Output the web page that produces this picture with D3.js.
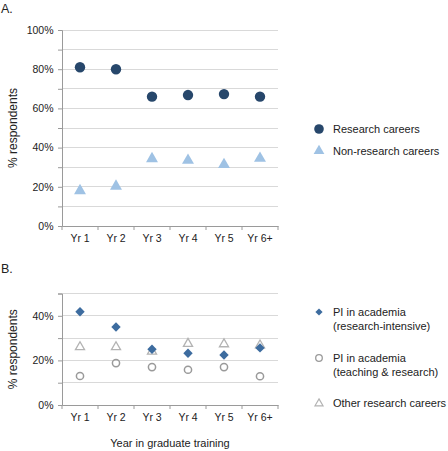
<!DOCTYPE html>
<html><head><meta charset="utf-8">
<script src="https://cdn.jsdelivr.net/npm/d3@7/dist/d3.min.js"></script>
<style>body{margin:0;background:#fff;}svg{display:block;font-family:"Liberation Sans",Arial,Helvetica,sans-serif;}</style>
</head><body>
<script>
const years = ["Yr 1","Yr 2","Yr 3","Yr 4","Yr 5","Yr 6+"];
const researchCareers = [81, 80, 66, 66.8, 67.3, 66];
const nonResearchCareers = [18, 20.3, 34.3, 33.5, 31.3, 34.5];
const piResearchIntensive = [41.8, 35, 25, 23.2, 22.4, 25.6];
const piTeachingResearch = [13, 18.8, 17, 15.8, 17, 12.9];
const otherResearch = [26, 26, 24, 27.5, 27.3, 26.8];
const ticksA = [0,20,40,60,80,100];
const ticksB = [0,20,40];

const W = 448, H = 451;
const svg = d3.select("body").append("svg").attr("width", W).attr("height", H);

const x = d3.scaleBand().domain(years).range([62, 278]).paddingInner(0).paddingOuter(0);
const yA = d3.scaleLinear().domain([0,100]).range([226, 30]);
const yB = d3.scaleLinear().domain([0,50]).range([405, 293.5]);

const gridColor = "#d9d9d9", axisColor = "#9a9a9a", txt = "#222";

function panel(y, ticks, gridStep, yTitleCenter){
  const g = svg.append("g");
  const [d0,d1] = y.domain();
  const gridVals = d3.range(d0 + gridStep, d1 + 0.001, gridStep);
  g.selectAll("line.grid").data(gridVals).join("line")
    .attr("x1", 62).attr("x2", 278).attr("y1", d=>y(d)).attr("y2", d=>y(d))
    .attr("stroke", gridColor).attr("stroke-width", 1).attr("shape-rendering","crispEdges");
  // left axis
  const la = d3.axisLeft(y).tickValues(d3.range(d0, d1 + 0.001, gridStep)).tickSize(4)
    .tickFormat(d => ticks.includes(d) ? d + "%" : "");
  const lg = g.append("g").attr("transform","translate(62,0)").call(la);
  lg.select(".domain").attr("stroke", axisColor);
  lg.selectAll(".tick line").attr("stroke", axisColor);
  lg.selectAll("text").attr("fill", txt).attr("font-size", "10.5px").attr("x", -8.5)
    .attr("font-family", "'Liberation Sans',Arial,sans-serif");
  // bottom axis
  const ba = d3.axisBottom(x).tickSize(0).tickPadding(9);
  const bg = g.append("g").attr("transform", `translate(0,${y(d0)})`).call(ba);
  bg.select(".domain").attr("stroke", axisColor);
  bg.selectAll("text").attr("fill", txt).attr("font-size", "10.5px")
    .attr("font-family", "'Liberation Sans',Arial,sans-serif");
  const bounds = years.map(d => x(d)).concat([x(years[years.length-1]) + x.bandwidth()]);
  g.selectAll("line.bt").data(bounds).join("line")
    .attr("x1", d=>d).attr("x2", d=>d).attr("y1", y(d0)).attr("y2", y(d0)+4)
    .attr("stroke", axisColor);
  // y title
  g.append("text").attr("transform", `translate(17,${yTitleCenter}) rotate(-90)`)
    .attr("text-anchor","middle").attr("font-size","12px").attr("fill", txt).text("% respondents");
  return g;
}

panel(yA, ticksA, 10, (yA(0)+yA(100))/2);
panel(yB, ticksB, 10, (yB(0)+yB(50))/2);

svg.append("text").attr("x", 1).attr("y", 13).attr("font-size","12.5px").attr("fill", txt).text("A.");
svg.append("text").attr("x", 1).attr("y", 273).attr("font-size","12.5px").attr("fill", txt).text("B.");
svg.append("text").attr("x", 170).attr("y", 447).attr("text-anchor","middle").attr("font-size","11px").attr("fill", txt).text("Year in graduate training");

const cx = d => x(d) + x.bandwidth()/2;
const cDark = "#27476b", cLight = "#9fc2e4", cDiamond = "#3d6c9f", cCirc = "#9a9a9a", cTri = "#b3b3b3";
const tri = d3.symbol().type(d3.symbolTriangle);
const dia = d3.symbol().type(d3.symbolSquare);

// Panel A
svg.append("g").selectAll("circle").data(years).join("circle")
  .attr("cx", cx).attr("cy", (d,i)=>yA(researchCareers[i])).attr("r", 5.2).attr("fill", cDark);
svg.append("g").selectAll("path").data(years).join("path")
  .attr("d", tri.size(62)())
  .attr("transform", (d,i)=>`translate(${cx(d)},${yA(nonResearchCareers[i])})`).attr("fill", cLight);

// Panel B
svg.append("g").selectAll("path").data(years).join("path")
  .attr("d", tri.size(36)())
  .attr("transform", (d,i)=>`translate(${cx(d)},${yB(otherResearch[i])})`)
  .attr("fill", "none").attr("stroke", cTri).attr("stroke-width", 1.3);
svg.append("g").selectAll("circle").data(years).join("circle")
  .attr("cx", cx).attr("cy", (d,i)=>yB(piTeachingResearch[i])).attr("r", 3.6)
  .attr("fill", "none").attr("stroke", cCirc).attr("stroke-width", 1.5);
svg.append("g").selectAll("path").data(years).join("path")
  .attr("d", dia.size(44)())
  .attr("transform", (d,i)=>`translate(${cx(d)},${yB(piResearchIntensive[i])}) rotate(45)`).attr("fill", cDiamond);

// Legends
const lx = 319, tx = 333;
const legA = svg.append("g").attr("font-size","11px").attr("fill", txt);
legA.append("circle").attr("cx", lx).attr("cy", 129).attr("r", 4.8).attr("fill", cDark);
legA.append("text").attr("x", tx).attr("y", 133).text("Research careers");
legA.append("path").attr("d", tri.size(50)()).attr("transform", `translate(${lx},151)`).attr("fill", cLight);
legA.append("text").attr("x", tx).attr("y", 155).text("Non-research careers");

const legB = svg.append("g").attr("font-size","11px").attr("fill", txt);
legB.append("path").attr("d", dia.size(26)()).attr("transform", `translate(${lx},312) rotate(45)`).attr("fill", cDiamond);
legB.append("text").attr("x", tx).attr("y", 316).text("PI in academia");
legB.append("text").attr("x", tx).attr("y", 330).text("(research-intensive)");
legB.append("circle").attr("cx", lx).attr("cy", 358).attr("r", 3.3).attr("fill","none").attr("stroke", cCirc).attr("stroke-width", 1.3);
legB.append("text").attr("x", tx).attr("y", 362).text("PI in academia");
legB.append("text").attr("x", tx).attr("y", 376).text("(teaching & research)");
legB.append("path").attr("d", tri.size(28)()).attr("transform", `translate(${lx},403.5)`).attr("fill","none").attr("stroke", cTri).attr("stroke-width", 1.2);
legB.append("text").attr("x", tx).attr("y", 407).text("Other research careers");
</script>
</body></html>
